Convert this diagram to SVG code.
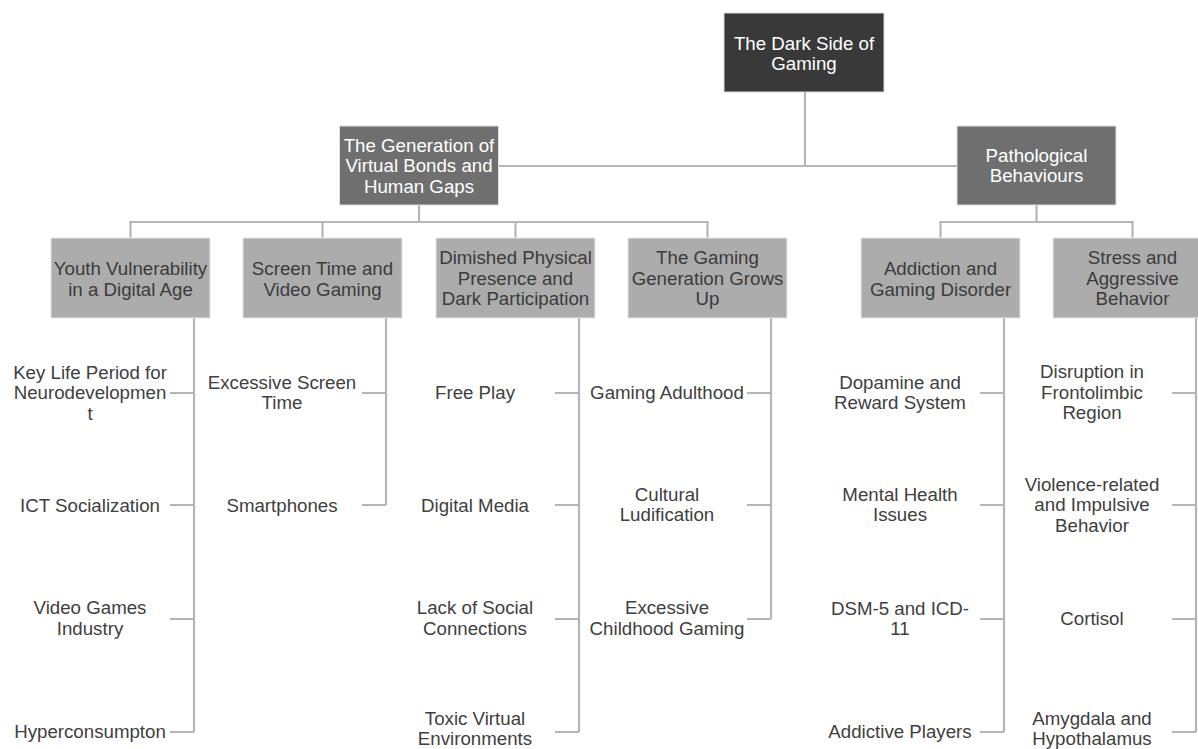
<svg xmlns="http://www.w3.org/2000/svg" width="1198" height="749" viewBox="0 0 1198 749">
  <style>
    text { font-family: "Liberation Sans", Arial, sans-serif; font-size: 18.7px; text-anchor: middle; }
    .root rect { fill: #393939; stroke: #d9d9d9; stroke-width: 1; }
    .l2 rect { fill: #6f6f6f; stroke: #e0e0e0; stroke-width: 1; }
    .l3 rect { fill: #acacac; stroke: #e6e6e6; stroke-width: 1; }
    .root text, .l2 text { fill: #ffffff; }
    .l3 text { fill: #3b3b3b; }
    .leaf text { fill: #404040; }
    .conn path { fill: none; stroke: #b5b5b5; stroke-width: 2.2; }
  </style>

  <!-- connectors -->
  <g class="conn" id="connectors">
    <!-- root to level 2 -->
    <path d="M805 92 V166 M498 166 H957"/>
    <!-- generation branch -->
    <path d="M419 205 V222 M130.5 222 H707.5 M130.5 221 V238 M322.5 221 V238 M515.5 221 V238 M707.5 221 V238"/>
    <!-- pathological branch -->
    <path d="M1036.5 205 V222 M940.5 222 H1132.5 M940.5 221 V238 M1132.5 221 V238"/>
    <!-- leaf spines and ticks -->
    <path d="M194 318 V732 M170 393 H194 M170 505 H194 M170 619 H194 M170 732 H194"/>
    <path d="M386 318 V505 M362 393 H386 M362 505 H386"/>
    <path d="M579 318 V732 M555 393 H579 M555 505 H579 M555 619 H579 M555 732 H579"/>
    <path d="M771 318 V619 M747 393 H771 M747 505 H771 M747 619 H771"/>
    <path d="M1004 318 V732 M980 393 H1004 M980 505 H1004 M980 619 H1004 M980 732 H1004"/>
    <path d="M1196 318 V732 M1172 393 H1196 M1172 505 H1196 M1172 619 H1196 M1172 732 H1196"/>
  </g>

  <!-- root -->
  <g class="root" id="n-root">
    <rect x="724" y="13" width="160" height="79"/>
    <text x="804" y="49.5">The Dark Side of</text>
    <text x="804" y="70">Gaming</text>
  </g>

  <!-- level 2 -->
  <g class="l2" id="n-generation">
    <rect x="339.5" y="126" width="159" height="79"/>
    <text x="419" y="151.5">The Generation of</text>
    <text x="419" y="172">Virtual Bonds and</text>
    <text x="419" y="192.5">Human Gaps</text>
  </g>
  <g class="l2" id="n-pathological">
    <rect x="957" y="126" width="159" height="79"/>
    <text x="1036.5" y="161.5">Pathological</text>
    <text x="1036.5" y="182">Behaviours</text>
  </g>

  <!-- level 3 -->
  <g class="l3" id="n-youth">
    <rect x="51" y="238" width="159" height="80"/>
    <text x="130.5" y="274.5">Youth Vulnerability</text>
    <text x="130.5" y="295.5">in a Digital Age</text>
  </g>
  <g class="l3" id="n-screen">
    <rect x="243" y="238" width="159" height="80"/>
    <text x="322.5" y="274.5">Screen Time and</text>
    <text x="322.5" y="295.5">Video Gaming</text>
  </g>
  <g class="l3" id="n-dimished">
    <rect x="436" y="238" width="159" height="80"/>
    <text x="515.5" y="264">Dimished Physical</text>
    <text x="515.5" y="284.5">Presence and</text>
    <text x="515.5" y="305">Dark Participation</text>
  </g>
  <g class="l3" id="n-grows">
    <rect x="628" y="238" width="159" height="80"/>
    <text x="707.5" y="264">The Gaming</text>
    <text x="707.5" y="284.5">Generation Grows</text>
    <text x="707.5" y="305">Up</text>
  </g>
  <g class="l3" id="n-addiction">
    <rect x="861" y="238" width="159" height="80"/>
    <text x="940.5" y="274.5">Addiction and</text>
    <text x="940.5" y="295.5">Gaming Disorder</text>
  </g>
  <g class="l3" id="n-stress">
    <rect x="1053" y="238" width="159" height="80"/>
    <text x="1132.5" y="264">Stress and</text>
    <text x="1132.5" y="284.5">Aggressive</text>
    <text x="1132.5" y="305">Behavior</text>
  </g>

  <!-- leaves: youth -->
  <g class="leaf" id="n-neuro">
    <text x="90" y="378.5">Key Life Period for</text>
    <text x="90" y="399">Neurodevelopmen</text>
    <text x="90" y="419.5">t</text>
  </g>
  <g class="leaf" id="n-ict"><text x="90" y="511.5">ICT Socialization</text></g>
  <g class="leaf" id="n-industry">
    <text x="90" y="614">Video Games</text>
    <text x="90" y="634.5">Industry</text>
  </g>
  <g class="leaf" id="n-hyper"><text x="90" y="738">Hyperconsumpton</text></g>

  <!-- leaves: screen -->
  <g class="leaf" id="n-excessive-screen">
    <text x="282" y="388.5">Excessive Screen</text>
    <text x="282" y="409">Time</text>
  </g>
  <g class="leaf" id="n-smartphones"><text x="282" y="511.5">Smartphones</text></g>

  <!-- leaves: dimished -->
  <g class="leaf" id="n-freeplay"><text x="475" y="398.5">Free Play</text></g>
  <g class="leaf" id="n-digital"><text x="475" y="511.5">Digital Media</text></g>
  <g class="leaf" id="n-social">
    <text x="475" y="614">Lack of Social</text>
    <text x="475" y="634.5">Connections</text>
  </g>
  <g class="leaf" id="n-toxic">
    <text x="475" y="724.5">Toxic Virtual</text>
    <text x="475" y="744.5">Environments</text>
  </g>

  <!-- leaves: grows up -->
  <g class="leaf" id="n-adulthood"><text x="667" y="398.5">Gaming Adulthood</text></g>
  <g class="leaf" id="n-ludification">
    <text x="667" y="500.5">Cultural</text>
    <text x="667" y="521">Ludification</text>
  </g>
  <g class="leaf" id="n-childhood">
    <text x="667" y="614">Excessive</text>
    <text x="667" y="634.5">Childhood Gaming</text>
  </g>

  <!-- leaves: addiction -->
  <g class="leaf" id="n-dopamine">
    <text x="900" y="388.5">Dopamine and</text>
    <text x="900" y="409">Reward System</text>
  </g>
  <g class="leaf" id="n-mental">
    <text x="900" y="500.5">Mental Health</text>
    <text x="900" y="521">Issues</text>
  </g>
  <g class="leaf" id="n-dsm">
    <text x="900" y="614.5">DSM-5 and ICD-</text>
    <text x="900" y="635">11</text>
  </g>
  <g class="leaf" id="n-players"><text x="900" y="738">Addictive Players</text></g>

  <!-- leaves: stress -->
  <g class="leaf" id="n-frontolimbic">
    <text x="1092" y="378">Disruption in</text>
    <text x="1092" y="398.5">Frontolimbic</text>
    <text x="1092" y="419">Region</text>
  </g>
  <g class="leaf" id="n-violence">
    <text x="1092" y="490.5">Violence-related</text>
    <text x="1092" y="511">and Impulsive</text>
    <text x="1092" y="531.5">Behavior</text>
  </g>
  <g class="leaf" id="n-cortisol"><text x="1092" y="624.5">Cortisol</text></g>
  <g class="leaf" id="n-amygdala">
    <text x="1092" y="724.5">Amygdala and</text>
    <text x="1092" y="744.5">Hypothalamus</text>
  </g>
</svg>
